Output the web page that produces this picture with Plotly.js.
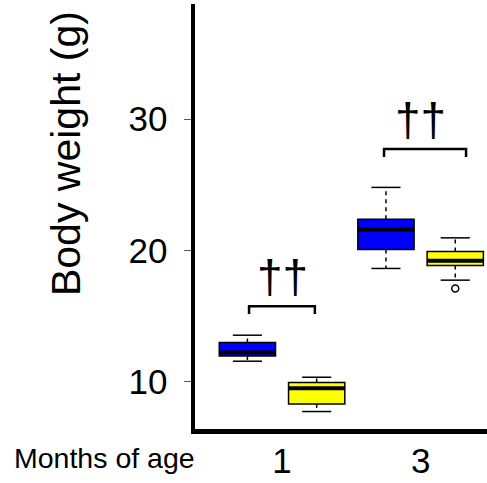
<!DOCTYPE html>
<html><head><meta charset="utf-8">
<script src="https://cdn.plot.ly/plotly-3.0.1.min.js"></script>
<style>html,body{margin:0;padding:0;background:#fff;} #chart{width:487px;height:483px;}</style>
</head><body><div id="chart"></div>
<script>
// ---- data ----
const categories = ["1", "3"];
const blueQ1 = [11.97, 20.08];
const blueMedian = [12.23, 21.60];
const blueQ3 = [12.99, 22.38];
const blueLower = [11.57, 18.63];
const blueUpper = [13.55, 24.80];
const yellowQ1 = [8.32, 18.86];
const yellowMedian = [9.51, 19.21];
const yellowQ3 = [9.95, 19.92];
const yellowLower = [7.74, 17.74];
const yellowUpper = [10.35, 20.96];
const yellowOutlierGroup = [1];
const yellowOutlierValue = [17.11];
const bracketTop = [15.76, 27.72];
const sigLabels = ["\u2020\u2020", "\u2020\u2020"];
const yTickVals = [10, 20, 30];
const yTitle = "Body weight (g)";
const xTitle = "Months of age";

// ---- style ----
const FONT = 'Liberation Sans, Arial, sans-serif';
const OFFSET = 0.25, BOXW = 0.406, CAPHALF = 0.105, LEG = 0.6;
const bracketSpan = [[-0.238, 0.237], [-0.264, 0.328]];
const idx = categories.map((c, i) => i);

function seriesTraces(q1, med, q3, lo, hi, fill, shift) {
  const pos = idx.map(i => i + shift);
  const out = [];
  const wx = [], wy = [];
  pos.forEach((p, i) => { wx.push(p, p, null, p, p, null); wy.push(q3[i], hi[i], null, q1[i], lo[i], null); });
  out.push({type: 'scatter', mode: 'lines', x: wx, y: wy, line: {color: '#000', width: 1.5, dash: '4px,4px'}, hoverinfo: 'skip', showlegend: false});
  const cx = [], cy = [];
  pos.forEach((p, i) => { cx.push(p - CAPHALF, p + CAPHALF, null, p - CAPHALF, p + CAPHALF, null); cy.push(hi[i], hi[i], null, lo[i], lo[i], null); });
  out.push({type: 'scatter', mode: 'lines', x: cx, y: cy, line: {color: '#000', width: 1.5}, hoverinfo: 'skip', showlegend: false});
  out.push({type: 'box', orientation: 'v', x: pos, q1: q1, median: med, q3: q3, lowerfence: q1, upperfence: q3,
    width: BOXW, fillcolor: fill, line: {color: '#000', width: 1.5}, whiskerwidth: 0, boxpoints: false, showlegend: false, hoverinfo: 'skip'});
  const mx = [], my = [];
  pos.forEach((p, i) => { mx.push(p - BOXW / 2, p + BOXW / 2, null); my.push(med[i], med[i], null); });
  out.push({type: 'scatter', mode: 'lines', x: mx, y: my, line: {color: '#000', width: 4}, hoverinfo: 'skip', showlegend: false});
  return out;
}

const traces = [].concat(
  seriesTraces(blueQ1, blueMedian, blueQ3, blueLower, blueUpper, '#0000FF', -OFFSET),
  seriesTraces(yellowQ1, yellowMedian, yellowQ3, yellowLower, yellowUpper, '#FFFF00', OFFSET)
);
traces.push({type: 'scatter', mode: 'markers', x: yellowOutlierGroup.map(i => i + OFFSET), y: yellowOutlierValue,
  marker: {symbol: 'circle-open', size: 7, color: '#000', line: {width: 1.5}}, hoverinfo: 'skip', showlegend: false});
// significance brackets
const bx = [], by = [];
idx.forEach(i => {
  const a = i + bracketSpan[i][0], b = i + bracketSpan[i][1];
  bx.push(a, a, b, b, null); by.push(bracketTop[i] - LEG, bracketTop[i], bracketTop[i], bracketTop[i] - LEG, null);
});
traces.push({type: 'scatter', mode: 'lines', x: bx, y: by, line: {color: '#000', width: 2.5}, hoverinfo: 'skip', showlegend: false});

const annotations = idx.map(i => ({
  x: i, y: bracketTop[i], xref: 'x', yref: 'y', text: sigLabels[i], showarrow: false,
  xanchor: 'center', yanchor: 'bottom', yshift: 1, font: {family: FONT, size: 46, color: '#000'}
}));
annotations.push({xref: 'paper', yref: 'paper', x: 0, y: 0.647, xshift: -129, text: yTitle, textangle: -90, showarrow: false,
  xanchor: 'center', yanchor: 'middle', font: {family: FONT, size: 41, color: '#000'}});
annotations.push({xref: 'paper', yref: 'paper', x: 0, y: 0, xshift: -183, yshift: -29, text: xTitle, showarrow: false,
  xanchor: 'left', yanchor: 'middle', font: {family: FONT, size: 28.5, color: '#000'}});

const layout = {
  width: 487, height: 483,
  margin: {l: 195, r: 0, t: 4, b: 54},
  paper_bgcolor: '#fff', plot_bgcolor: '#fff',
  showlegend: false,
  xaxis: {range: [-0.628, 1.479], tickvals: idx, ticktext: categories, ticks: '', showgrid: false, zeroline: false,
    showline: true, linewidth: 4.5, linecolor: '#000', ticklabelstandoff: -3,
    tickfont: {family: FONT, size: 35, color: '#000'}},
  yaxis: {range: [6.41, 38.76], tickvals: yTickVals, ticks: 'outside', ticklen: 7, tickwidth: 1, tickcolor: '#555',
    showgrid: false, zeroline: false, showline: true, linewidth: 4.5, linecolor: '#000', ticklabelstandoff: 9,
    tickfont: {family: FONT, size: 35, color: '#000'}},
  annotations: annotations
};
Plotly.newPlot('chart', traces, layout, {displayModeBar: false, staticPlot: true});
</script></body></html>
